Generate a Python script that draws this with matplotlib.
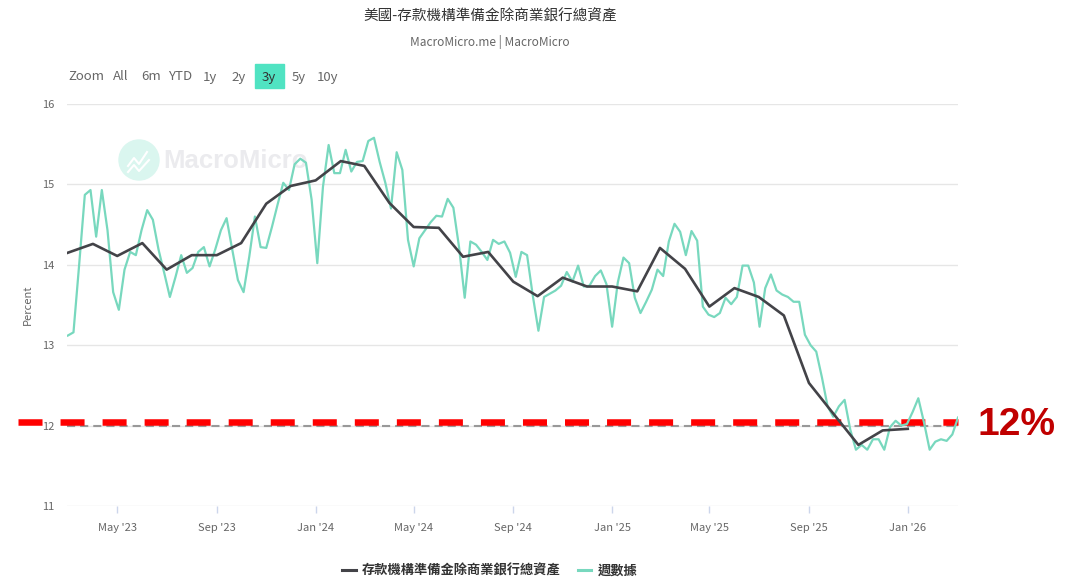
import matplotlib
matplotlib.use('Agg')
import pandas as pd
import matplotlib.pyplot as plt
import matplotlib.transforms as mtrans
from matplotlib.patches import Ellipse, Rectangle
from matplotlib.lines import Line2D

plt.rcParams['font.family'] = ['Noto Sans CJK TC', 'DejaVu Sans']

# ---- data ----
title = '美國-存款機構準備金除商業銀行總資產'
subtitle = 'MacroMicro.me | MacroMicro'
monthly_name = '存款機構準備金除商業銀行總資產'
weekly_name = '週數據'

monthly_start = '2023-03-01'
monthly_vals = [14.15, 14.26, 14.11, 14.27, 13.94, 14.12, 14.12, 14.27, 14.76, 14.98,
                15.05, 15.29, 15.23, 14.77, 14.47, 14.46, 14.10, 14.16, 13.79, 13.61,
                13.84, 13.73, 13.73, 13.67, 14.21, 13.95, 13.48, 13.71, 13.60, 13.37,
                12.53, 12.15, 11.76, 11.94, 11.96]

weekly_start = '2023-03-01'
weekly_vals = [13.12, 13.16, 14.00, 14.87, 14.93, 14.35, 14.93, 14.43, 13.66, 13.44,
               13.94, 14.16, 14.12, 14.43, 14.68, 14.56, 14.19, 13.90, 13.60, 13.85,
               14.12, 13.90, 13.96, 14.16, 14.22, 13.98, 14.19, 14.43, 14.58, 14.19,
               13.81, 13.66, 14.10, 14.60, 14.22, 14.21, 14.47, 14.75, 15.02, 14.93,
               15.25, 15.32, 15.27, 14.81, 14.02, 14.97, 15.49, 15.14, 15.14, 15.43,
               15.16, 15.28, 15.29, 15.54, 15.58, 15.28, 15.02, 14.70, 15.40, 15.18,
               14.31, 13.98, 14.33, 14.43, 14.53, 14.61, 14.60, 14.82, 14.71, 14.22,
               13.59, 14.29, 14.25, 14.16, 14.06, 14.31, 14.26, 14.29, 14.15, 13.85,
               14.16, 14.12, 13.62, 13.18, 13.60, 13.64, 13.68, 13.74, 13.91, 13.79,
               13.99, 13.73, 13.74, 13.86, 13.93, 13.76, 13.23, 13.78, 14.09, 14.02,
               13.59, 13.40, 13.54, 13.69, 13.94, 13.86, 14.29, 14.51, 14.41, 14.12,
               14.42, 14.30, 13.48, 13.38, 13.35, 13.40, 13.59, 13.51, 13.60, 13.99,
               13.99, 13.78, 13.23, 13.71, 13.88, 13.68, 13.63, 13.60, 13.54, 13.54,
               13.13, 13.00, 12.92, 12.60, 12.24, 12.11, 12.24, 12.32, 11.95, 11.70,
               11.76, 11.70, 11.83, 11.83, 11.70, 11.98, 12.06, 12.00, 12.02, 12.17,
               12.34, 12.04, 11.70, 11.80, 11.83, 11.81, 11.89, 12.10]

target_level = 12.04
target_label = '12%'
yticks = [11, 12, 13, 14, 15, 16]
xtick_dates = ['2023-05-01', '2023-09-01', '2024-01-01', '2024-05-01', '2024-09-01',
               '2025-01-01', '2025-05-01', '2025-09-01', '2026-01-01']
buttons = ['All', '6m', 'YTD', '1y', '2y', '3y', '5y', '10y']
button_x = [121, 151, 180, 210, 239, 269, 299, 328]

monthly_dates = pd.date_range(monthly_start, periods=len(monthly_vals), freq='MS')
weekly_dates = pd.date_range(weekly_start, periods=len(weekly_vals), freq='7D')

W, H = 1081, 580
fig = plt.figure(figsize=(W / 100, H / 100), dpi=100)
ax = fig.add_axes([67 / W, 1 - 506 / H, (958 - 67) / W, (506 - 104) / H])

dark = '#434348'
mint = '#78d8be'

ax.plot(weekly_dates, weekly_vals, color=mint, lw=1.6, zorder=3)
ax.plot(monthly_dates, monthly_vals, color=dark, lw=1.9, zorder=4)

ax.set_ylim(11, 16)
ax.set_xlim(pd.Timestamp('2023-02-28'), pd.Timestamp('2026-03-04'))
ax.set_yticks(yticks)
ax.set_xticks(pd.to_datetime(xtick_dates))
ax.set_xticklabels([d.strftime("%b '%y") for d in pd.to_datetime(xtick_dates)])
ax.grid(axis='y', color='#e6e6e6', lw=1)
ax.set_axisbelow(True)
for s in ax.spines.values():
    s.set_visible(False)
ax.tick_params(axis='y', length=0, pad=9, labelsize=8, labelcolor='#666666')
ax.tick_params(axis='x', length=5, width=1, color='#ccd6eb', pad=7,
               labelsize=8, labelcolor='#666666')
ax.set_ylabel('Percent', fontsize=8, color='#666666')
ax.yaxis.set_label_coords(-34 / 891, 0.5)

# grey dashed reference at 12
ax.axhline(12, color='#999999', lw=1.5, dashes=(3.9, 2.4), zorder=2)

# red dashed annotation line reaching out past the left edge
blend = mtrans.blended_transform_factory(fig.transFigure, ax.transData)
ax.plot([18 / W, 958 / W], [target_level, target_level], transform=blend,
        color='#ff0000', lw=4.7, dashes=(3.68, 2.76), clip_on=False, zorder=2.5)
fig.text(1017 / W, 1 - 425 / H, target_label, color='#c00000', fontsize=28,
         fontweight='bold', family='Liberation Sans', ha='center', va='center')

# watermark
ax.add_patch(Ellipse((139 / W, 1 - 160 / H), 40 / W, 40 / H, transform=fig.transFigure,
                     color='#daf6ef', zorder=0.5, clip_on=False))
ax.plot([128 / W, 134 / W, 139 / W, 147 / W], [1 - 166 / H, 1 - 158 / H, 1 - 164 / H, 1 - 152 / H],
        transform=fig.transFigure, color='white', lw=1.5, zorder=0.6, clip_on=False)
ax.plot([128 / W, 134 / W, 139 / W, 149 / W], [1 - 172 / H, 1 - 165 / H, 1 - 171 / H, 1 - 160 / H],
        transform=fig.transFigure, color='white', lw=1.5, zorder=0.6, clip_on=False)
ax.text(163 / W, 1 - 161 / H, 'MacroMicro', transform=fig.transFigure, fontsize=18.5,
        fontweight='bold', family='Liberation Sans', color='#ebebee', va='center',
        ha='left', zorder=0.5, clip_on=False)

# title block
fig.text(490 / W, 1 - 16 / H, title, fontsize=10.5, color='#333333', ha='center', va='center')
fig.text(490 / W, 1 - 42 / H, subtitle, fontsize=8.5, color='#666666', ha='center', va='center')

# range selector
fig.text(68 / W, 1 - 77 / H, 'Zoom', fontsize=9.5, color='#666666', ha='left', va='center')
fig.add_artist(Rectangle((255 / W, 1 - 88 / H), 29 / W, 24 / H, transform=fig.transFigure,
                         color='#50e3c2', zorder=1))
for b, bx in zip(buttons, button_x):
    fig.text(bx / W, 1 - 77 / H, b, fontsize=9.5, color='#333333' if b == '3y' else '#666666',
             ha='center', va='center', zorder=2)

# legend
handles = [Line2D([], [], color=dark, lw=2.2), Line2D([], [], color=mint, lw=2.2)]
fig.legend(handles, [monthly_name, weekly_name], loc='center',
           bbox_to_anchor=(490 / W, 1 - 571 / H), ncol=2, frameon=False,
           handlelength=1.0, handletextpad=0.5, columnspacing=1.3,
           prop={'weight': 'bold', 'size': 9.5}, labelcolor='#333333')

fig.savefig('out.png', dpi=100)
